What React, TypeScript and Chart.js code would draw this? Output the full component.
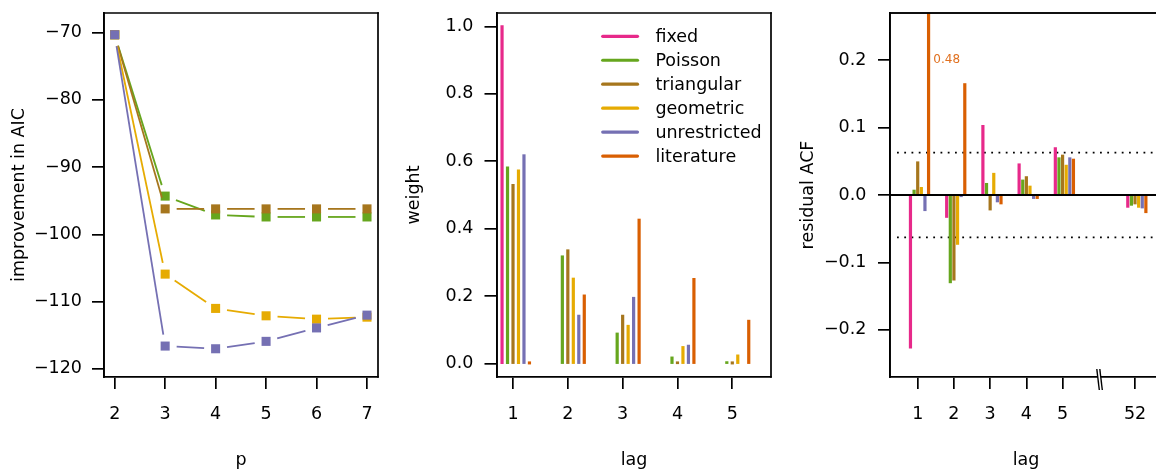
import React, { useEffect, useRef } from "react";
import { Chart, registerables } from "chart.js";

Chart.register(...registerables);

const FONT_FAMILY = "'DejaVu Sans', 'Liberation Sans', sans-serif";
const AXIS_FONT = { family: FONT_FAMILY, size: 17.5 };
const INK = "#000000";
const LINE_W = 1.7;

// ---- shared series ----
const seriesNames = ["fixed", "Poisson", "triangular", "geometric", "unrestricted", "literature"];
const seriesColors = ["#E7298A", "#66A61E", "#A6761D", "#E6AB02", "#7570B3", "#D95F02"];

// ---- panel 1: improvement in AIC vs p ----
const aicOrders = [2, 3, 4, 5, 6, 7];
const aicPoisson = [-70.3, -94.3, -97.1, -97.4, -97.4, -97.4];
const aicTriangular = [-70.3, -96.2, -96.2, -96.2, -96.2, -96.2];
const aicGeometric = [-70.3, -105.9, -111.0, -112.1, -112.6, -112.3];
const aicUnrestricted = [-70.3, -116.6, -117.0, -115.9, -113.9, -112.0];
const aicXLabels = ["2", "3", "4", "5", "6", "7"];
const aicYTicks = [-120, -110, -100, -90, -80, -70];
const aicYLabels = ["\u2212120", "\u2212110", "\u2212100", "\u221290", "\u221280", "\u221270"];

// ---- panel 2: weights by lag ----
const weightLags = [1, 2, 3, 4, 5];
const weightFixed = [1.0, null, null, null, null];
const weightPoisson = [0.581, 0.317, 0.088, 0.017, 0.003];
const weightTriangular = [0.529, 0.335, 0.141, 0.002, 0.001];
const weightGeometric = [0.572, 0.251, 0.111, 0.048, 0.023];
const weightUnrestricted = [0.617, 0.141, 0.194, 0.052, null];
const weightLiterature = [0.001, 0.201, 0.426, 0.25, 0.126];
const weightXLabels = ["1", "2", "3", "4", "5"];
const weightYTicks = [0, 0.2, 0.4, 0.6, 0.8, 1.0];
const weightYLabels = ["0.0", "0.2", "0.4", "0.6", "0.8", "1.0"];

// ---- panel 3: residual ACF ----
const acfLagPositions = [1, 2, 3, 4, 5, 7];
const acfLagLabels = ["1", "2", "3", "4", "5", "52"];
const acfBreakPosition = 6;
const acfFixed = [-0.226, -0.032, 0.102, 0.045, 0.069, -0.017];
const acfPoisson = [0.006, -0.129, 0.016, 0.021, 0.054, -0.014];
const acfTriangular = [0.048, -0.125, -0.021, 0.026, 0.058, -0.012];
const acfGeometric = [0.01, -0.072, 0.031, 0.012, 0.043, -0.017];
const acfUnrestricted = [-0.022, -0.001, -0.009, -0.004, 0.054, -0.018];
const acfLiterature = [0.48, 0.164, -0.012, -0.004, 0.052, -0.025];
const acfBound = 0.063;
const acfYTicks = [-0.2, -0.1, 0, 0.1, 0.2];
const acfYLabels = ["\u22120.2", "\u22120.1", "0.0", "0.1", "0.2"];
const acfOffscaleLabelY = 0.2;

const GROUP_STEP = 0.1;

type AxisSpec = {
  min: number;
  max: number;
  ticks: number[];
  labels: string[];
  title: string;
  size: number;
  tickLength: number;
  padding: number;
  titlePad: number;
};

function makeAxis(pos: "x" | "y", a: AxisSpec) {
  const isX = pos === "x";
  return {
    type: "linear",
    position: isX ? "bottom" : "left",
    min: a.min,
    max: a.max,
    bounds: "data",
    offset: false,
    afterBuildTicks: (s: any) => {
      s.ticks = a.ticks.map((v) => ({ value: v }));
    },
    afterFit: (s: any) => {
      if (isX) s.height = a.size;
      else s.width = a.size;
      s.paddingLeft = 0;
      s.paddingRight = 0;
      s.paddingTop = 0;
      s.paddingBottom = 0;
    },
    ticks: {
      autoSkip: false,
      maxRotation: 0,
      minRotation: 0,
      padding: a.padding,
      color: INK,
      font: AXIS_FONT,
      callback: (_v: any, i: number) => a.labels[i],
    },
    grid: {
      display: true,
      offset: false,
      drawOnChartArea: false,
      drawTicks: true,
      tickLength: a.tickLength,
      tickWidth: LINE_W,
      tickColor: INK,
      color: INK,
      lineWidth: LINE_W,
    },
    border: { display: true, color: INK, width: LINE_W },
    title: {
      display: true,
      text: a.title,
      color: INK,
      font: AXIS_FONT,
      padding: isX ? { top: 0, bottom: a.titlePad } : { top: a.titlePad, bottom: 0 },
    },
  };
}

function strokeSeg(ctx: any, x1: number, y1: number, x2: number, y2: number) {
  ctx.beginPath();
  ctx.moveTo(x1, y1);
  ctx.lineTo(x2, y2);
  ctx.stroke();
}

function drawFrame(chart: any) {
  const { left, top, right, bottom } = chart.chartArea;
  const ctx = chart.ctx;
  ctx.save();
  ctx.setLineDash([]);
  ctx.globalAlpha = 1;
  ctx.strokeStyle = INK;
  ctx.lineWidth = LINE_W;
  ctx.lineCap = "square";
  strokeSeg(ctx, left, top, right, top);
  strokeSeg(ctx, right, top, right, bottom);
  strokeSeg(ctx, left, top, left, bottom);
  ctx.restore();
}

const boxPlugin = {
  id: "frameBox",
  afterDraw(chart: any) {
    drawFrame(chart);
  },
};

const POINT_GAP = 11.5;
const gappedLinesPlugin = {
  id: "gappedLines",
  beforeDatasetDraw(chart: any, args: any) {
    const ds = chart.data.datasets[args.index];
    const pts = args.meta.data;
    const ctx = chart.ctx;
    ctx.save();
    ctx.strokeStyle = ds.borderColor;
    ctx.lineWidth = 1.8;
    ctx.lineCap = "butt";
    for (let i = 0; i < pts.length - 1; i++) {
      const a = pts[i];
      const b = pts[i + 1];
      const dx = b.x - a.x;
      const dy = b.y - a.y;
      const len = Math.hypot(dx, dy);
      if (len <= 2 * POINT_GAP) continue;
      const ux = dx / len;
      const uy = dy / len;
      strokeSeg(ctx, a.x + ux * POINT_GAP, a.y + uy * POINT_GAP, b.x - ux * POINT_GAP, b.y - uy * POINT_GAP);
    }
    ctx.restore();
  },
};

const legendPlugin = {
  id: "insetLegend",
  afterDatasetsDraw(chart: any) {
    const ctx = chart.ctx;
    const { left, top } = chart.chartArea;
    const x0 = left + 105.7;
    const x1 = left + 140.5;
    const tx = left + 158.4;
    ctx.save();
    ctx.font = `17.5px ${FONT_FAMILY}`;
    ctx.textAlign = "left";
    ctx.textBaseline = "middle";
    seriesNames.forEach((name, i) => {
      const y = top + 23.3 + i * 23.95;
      ctx.strokeStyle = seriesColors[i];
      ctx.lineWidth = 3.2;
      ctx.lineCap = "round";
      strokeSeg(ctx, x0, y, x1, y);
      ctx.fillStyle = INK;
      ctx.fillText(name, tx, y + 1);
    });
    ctx.restore();
  },
};

const acfPlugin = {
  id: "acfExtras",
  beforeDatasetsDraw(chart: any) {
    const ctx = chart.ctx;
    const { left, right } = chart.chartArea;
    const ys = chart.scales.y;
    ctx.save();
    ctx.strokeStyle = INK;
    ctx.lineWidth = 1.8;
    ctx.setLineDash([1.8, 5.45]);
    [acfBound, -acfBound].forEach((v) => {
      const y = ys.getPixelForValue(v);
      strokeSeg(ctx, left + 7, y, right, y);
    });
    ctx.restore();
  },
  afterDatasetsDraw(chart: any) {
    const ctx = chart.ctx;
    const { left, right } = chart.chartArea;
    const xs = chart.scales.x;
    const ys = chart.scales.y;
    ctx.save();
    ctx.setLineDash([]);
    ctx.strokeStyle = INK;
    ctx.lineWidth = 2;
    const y0 = ys.getPixelForValue(0);
    strokeSeg(ctx, left, y0, right, y0);
    const litIdx = seriesNames.indexOf("literature");
    const off = (litIdx - 2) * GROUP_STEP;
    ctx.fillStyle = "#E0701F";
    ctx.font = `12px ${FONT_FAMILY}`;
    ctx.textAlign = "center";
    ctx.textBaseline = "middle";
    ctx.fillText(
      acfLiterature[0].toFixed(2),
      xs.getPixelForValue(acfLagPositions[0] + off + 0.5),
      ys.getPixelForValue(acfOffscaleLabelY)
    );
    ctx.restore();
  },
  afterDraw(chart: any) {
    const ctx = chart.ctx;
    const { left, top, right, bottom } = chart.chartArea;
    const xs = chart.scales.x;
    ctx.save();
    ctx.setLineDash([]);
    ctx.strokeStyle = INK;
    ctx.lineWidth = LINE_W;
    strokeSeg(ctx, left, top, right, top);
    const bx = xs.getPixelForValue(acfBreakPosition);
    const t = bottom - 8;
    const b = bottom + 13;
    ctx.fillStyle = "#ffffff";
    ctx.beginPath();
    ctx.moveTo(bx - 2, t);
    ctx.lineTo(bx + 1, t);
    ctx.lineTo(bx + 3.5, b);
    ctx.lineTo(bx + 0.5, b);
    ctx.closePath();
    ctx.fill();
    ctx.lineWidth = 1.4;
    strokeSeg(ctx, bx - 2, t, bx + 0.5, b);
    strokeSeg(ctx, bx + 1, t, bx + 3.5, b);
    ctx.restore();
  },
};

const baseOptions = (padding: any, scales: any) => ({
  responsive: false,
  animation: false,
  events: [],
  layout: { padding },
  plugins: { legend: { display: false }, tooltip: { enabled: false } },
  scales,
});

function aicConfig(): any {
  const series = [
    { name: "Poisson", values: aicPoisson, color: seriesColors[1] },
    { name: "triangular", values: aicTriangular, color: seriesColors[2] },
    { name: "geometric", values: aicGeometric, color: seriesColors[3] },
    { name: "unrestricted", values: aicUnrestricted, color: seriesColors[4] },
  ];
  return {
    type: "scatter",
    data: {
      datasets: series.map((s, i) => ({
        label: s.name,
        data: aicOrders.map((p, j) => ({ x: p, y: s.values[j] })),
        backgroundColor: s.color,
        borderColor: s.color,
        pointStyle: "rect",
        pointRadius: 6.4,
        pointHoverRadius: 6.4,
        pointBorderWidth: 0,
        showLine: false,
        order: series.length - i,
      })),
    },
    options: baseOptions(
      { left: 0, top: 13, right: 12, bottom: 0 },
      {
        x: makeAxis("x", {
          min: 1.788, max: 7.218, ticks: aicOrders, labels: aicXLabels, title: "p",
          size: 96, tickLength: 12, padding: 14.5, titlePad: 2.2,
        }),
        y: makeAxis("y", {
          min: -121.2, max: -67.07, ticks: aicYTicks, labels: aicYLabels, title: "improvement in AIC",
          size: 104, tickLength: 12, padding: 10, titlePad: 9.1,
        }),
      }
    ),
    plugins: [gappedLinesPlugin, boxPlugin],
  };
}

function barDatasets(positions: number[], seriesValues: (number | null)[][], clip: any) {
  return seriesValues.map((vals, i) => ({
    type: "bar",
    label: seriesNames[i],
    data: positions
      .map((pos, j) => (vals[j] == null ? null : { x: pos + (i - 2) * GROUP_STEP, y: vals[j] }))
      .filter((d) => d !== null),
    backgroundColor: seriesColors[i],
    borderWidth: 0,
    barThickness: 0.7,
    inflateAmount: 1.25,
    grouped: false,
    order: seriesValues.length - i,
    clip,
  }));
}

function weightConfig(): any {
  return {
    type: "bar",
    data: {
      datasets: barDatasets(
        weightLags,
        [weightFixed, weightPoisson, weightTriangular, weightGeometric, weightUnrestricted, weightLiterature],
        false
      ),
    },
    options: baseOptions(
      { left: 0, top: 13, right: 9, bottom: 0 },
      {
        x: makeAxis("x", {
          min: 0.708, max: 5.706, ticks: weightLags, labels: weightXLabels, title: "lag",
          size: 96, tickLength: 12, padding: 14.5, titlePad: 2.2,
        }),
        y: makeAxis("y", {
          min: -0.04, max: 1.04, ticks: weightYTicks, labels: weightYLabels, title: "weight",
          size: 107, tickLength: 12.5, padding: 11.1, titlePad: 14,
        }),
      }
    ),
    plugins: [boxPlugin, legendPlugin],
  };
}

function acfConfig(): any {
  return {
    type: "bar",
    data: {
      datasets: barDatasets(
        acfLagPositions,
        [acfFixed, acfPoisson, acfTriangular, acfGeometric, acfUnrestricted, acfLiterature],
        0
      ),
    },
    options: baseOptions(
      { left: 0, top: 13, right: 8, bottom: 0 },
      {
        x: makeAxis("x", {
          min: 0.235, max: 7.745, ticks: acfLagPositions, labels: acfLagLabels, title: "lag",
          size: 96, tickLength: 12, padding: 14.5, titlePad: 2.2,
        }),
        y: makeAxis("y", {
          min: -0.27, max: 0.27, ticks: acfYTicks, labels: acfYLabels, title: "residual ACF",
          size: 110, tickLength: 12, padding: 11.6, titlePad: 17.6,
        }),
      }
    ),
    plugins: [boxPlugin, acfPlugin],
  };
}

export default function App() {
  const r1 = useRef<HTMLCanvasElement>(null);
  const r2 = useRef<HTMLCanvasElement>(null);
  const r3 = useRef<HTMLCanvasElement>(null);

  useEffect(() => {
    const charts = [
      new Chart(r1.current as HTMLCanvasElement, aicConfig()),
      new Chart(r2.current as HTMLCanvasElement, weightConfig()),
      new Chart(r3.current as HTMLCanvasElement, acfConfig()),
    ];
    return () => charts.forEach((c) => c.destroy());
  }, []);

  const cs = (left: number): React.CSSProperties => ({
    position: "absolute",
    left,
    top: 0,
    width: 390,
    height: 473,
  });

  return (
    <div
      style={{
        position: "fixed",
        left: 0,
        top: 0,
        width: 1156,
        height: 473,
        overflow: "hidden",
        background: "#ffffff",
      }}
    >
      <canvas ref={r1} width={390} height={473} style={cs(0)} />
      <canvas ref={r2} width={390} height={473} style={cs(390)} />
      <canvas ref={r3} width={390} height={473} style={cs(780)} />
    </div>
  );
}
